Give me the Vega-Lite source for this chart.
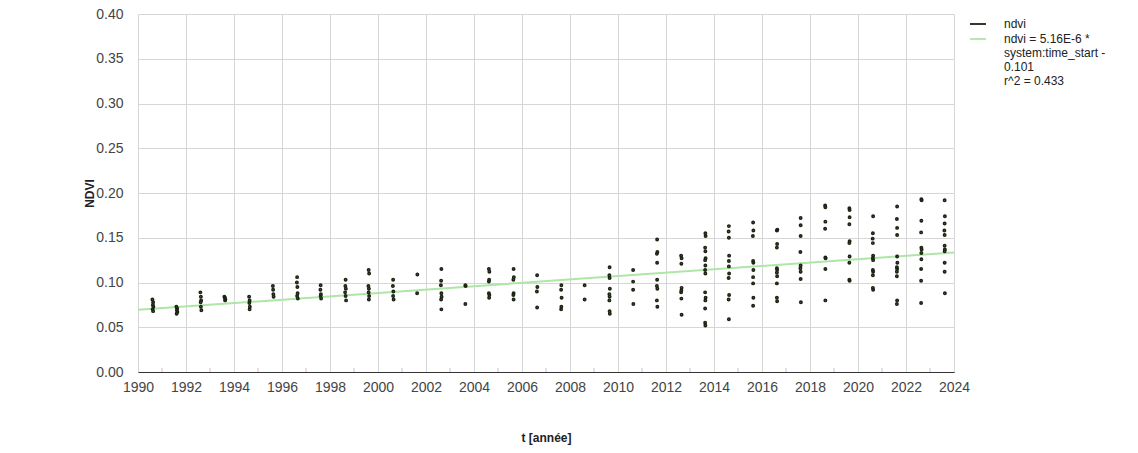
{
  "$schema": "https://vega.github.io/schema/vega-lite/v6.json",
  "width": 816,
  "height": 358,
  "autosize": {"type": "none"},
  "padding": {"left": 138, "top": 14, "right": 184, "bottom": 81},
  "config": {
    "view": {"stroke": null},
    "font": "Liberation Sans"
  },
  "datasets": {
    "points": [
      {"t": 1990.60, "ndvi": 0.081}, {"t": 1990.63, "ndvi": 0.078}, {"t": 1990.62, "ndvi": 0.075}, {"t": 1990.64, "ndvi": 0.073}, {"t": 1990.61, "ndvi": 0.070}, {"t": 1990.63, "ndvi": 0.068},
      {"t": 1991.60, "ndvi": 0.073}, {"t": 1991.63, "ndvi": 0.071}, {"t": 1991.62, "ndvi": 0.069}, {"t": 1991.64, "ndvi": 0.067}, {"t": 1991.61, "ndvi": 0.065},
      {"t": 1992.60, "ndvi": 0.089}, {"t": 1992.62, "ndvi": 0.084}, {"t": 1992.63, "ndvi": 0.080}, {"t": 1992.61, "ndvi": 0.078}, {"t": 1992.62, "ndvi": 0.073}, {"t": 1992.64, "ndvi": 0.069},
      {"t": 1993.60, "ndvi": 0.084}, {"t": 1993.62, "ndvi": 0.083}, {"t": 1993.64, "ndvi": 0.081}, {"t": 1993.63, "ndvi": 0.080},
      {"t": 1994.63, "ndvi": 0.084}, {"t": 1994.65, "ndvi": 0.080}, {"t": 1994.64, "ndvi": 0.077}, {"t": 1994.66, "ndvi": 0.073}, {"t": 1994.65, "ndvi": 0.070},
      {"t": 1995.62, "ndvi": 0.096}, {"t": 1995.63, "ndvi": 0.092}, {"t": 1995.64, "ndvi": 0.087}, {"t": 1995.65, "ndvi": 0.084},
      {"t": 1996.63, "ndvi": 0.106}, {"t": 1996.62, "ndvi": 0.100}, {"t": 1996.64, "ndvi": 0.095}, {"t": 1996.65, "ndvi": 0.088}, {"t": 1996.63, "ndvi": 0.085}, {"t": 1996.66, "ndvi": 0.082},
      {"t": 1997.61, "ndvi": 0.097}, {"t": 1997.60, "ndvi": 0.092}, {"t": 1997.62, "ndvi": 0.087}, {"t": 1997.61, "ndvi": 0.085}, {"t": 1997.63, "ndvi": 0.082},
      {"t": 1998.65, "ndvi": 0.103}, {"t": 1998.64, "ndvi": 0.096}, {"t": 1998.66, "ndvi": 0.093}, {"t": 1998.63, "ndvi": 0.089}, {"t": 1998.65, "ndvi": 0.085}, {"t": 1998.67, "ndvi": 0.080},
      {"t": 1999.61, "ndvi": 0.114}, {"t": 1999.63, "ndvi": 0.110}, {"t": 1999.60, "ndvi": 0.096}, {"t": 1999.62, "ndvi": 0.093}, {"t": 1999.61, "ndvi": 0.089}, {"t": 1999.63, "ndvi": 0.085}, {"t": 1999.62, "ndvi": 0.081},
      {"t": 2000.63, "ndvi": 0.103}, {"t": 2000.62, "ndvi": 0.096}, {"t": 2000.64, "ndvi": 0.090}, {"t": 2000.63, "ndvi": 0.085}, {"t": 2000.65, "ndvi": 0.081},
      {"t": 2001.64, "ndvi": 0.109}, {"t": 2001.63, "ndvi": 0.088},
      {"t": 2002.64, "ndvi": 0.115}, {"t": 2002.63, "ndvi": 0.102}, {"t": 2002.62, "ndvi": 0.097}, {"t": 2002.64, "ndvi": 0.088}, {"t": 2002.65, "ndvi": 0.084}, {"t": 2002.63, "ndvi": 0.081}, {"t": 2002.64, "ndvi": 0.070},
      {"t": 2003.64, "ndvi": 0.097}, {"t": 2003.65, "ndvi": 0.096}, {"t": 2003.64, "ndvi": 0.076},
      {"t": 2004.62, "ndvi": 0.115}, {"t": 2004.64, "ndvi": 0.112}, {"t": 2004.63, "ndvi": 0.103}, {"t": 2004.62, "ndvi": 0.101}, {"t": 2004.62, "ndvi": 0.088}, {"t": 2004.64, "ndvi": 0.086}, {"t": 2004.63, "ndvi": 0.083},
      {"t": 2005.65, "ndvi": 0.115}, {"t": 2005.66, "ndvi": 0.106}, {"t": 2005.64, "ndvi": 0.103}, {"t": 2005.65, "ndvi": 0.088}, {"t": 2005.64, "ndvi": 0.086}, {"t": 2005.65, "ndvi": 0.081},
      {"t": 2006.63, "ndvi": 0.108}, {"t": 2006.64, "ndvi": 0.095}, {"t": 2006.62, "ndvi": 0.090}, {"t": 2006.63, "ndvi": 0.072},
      {"t": 2007.64, "ndvi": 0.097}, {"t": 2007.63, "ndvi": 0.092}, {"t": 2007.65, "ndvi": 0.083}, {"t": 2007.64, "ndvi": 0.073}, {"t": 2007.63, "ndvi": 0.070},
      {"t": 2008.61, "ndvi": 0.097}, {"t": 2008.61, "ndvi": 0.081},
      {"t": 2009.65, "ndvi": 0.117}, {"t": 2009.64, "ndvi": 0.108}, {"t": 2009.65, "ndvi": 0.105}, {"t": 2009.66, "ndvi": 0.093}, {"t": 2009.64, "ndvi": 0.087}, {"t": 2009.65, "ndvi": 0.084}, {"t": 2009.64, "ndvi": 0.080}, {"t": 2009.65, "ndvi": 0.068}, {"t": 2009.66, "ndvi": 0.065},
      {"t": 2010.63, "ndvi": 0.114}, {"t": 2010.63, "ndvi": 0.101}, {"t": 2010.63, "ndvi": 0.092}, {"t": 2010.64, "ndvi": 0.076},
      {"t": 2011.63, "ndvi": 0.148}, {"t": 2011.64, "ndvi": 0.134}, {"t": 2011.62, "ndvi": 0.132}, {"t": 2011.63, "ndvi": 0.122}, {"t": 2011.63, "ndvi": 0.103}, {"t": 2011.62, "ndvi": 0.096}, {"t": 2011.64, "ndvi": 0.093}, {"t": 2011.62, "ndvi": 0.080}, {"t": 2011.64, "ndvi": 0.073},
      {"t": 2012.63, "ndvi": 0.130}, {"t": 2012.65, "ndvi": 0.127}, {"t": 2012.64, "ndvi": 0.121}, {"t": 2012.65, "ndvi": 0.094}, {"t": 2012.64, "ndvi": 0.091}, {"t": 2012.63, "ndvi": 0.089}, {"t": 2012.64, "ndvi": 0.082}, {"t": 2012.65, "ndvi": 0.064},
      {"t": 2013.64, "ndvi": 0.155}, {"t": 2013.65, "ndvi": 0.152}, {"t": 2013.63, "ndvi": 0.139}, {"t": 2013.64, "ndvi": 0.135}, {"t": 2013.65, "ndvi": 0.127}, {"t": 2013.63, "ndvi": 0.125}, {"t": 2013.64, "ndvi": 0.119}, {"t": 2013.63, "ndvi": 0.114}, {"t": 2013.64, "ndvi": 0.110}, {"t": 2013.63, "ndvi": 0.089}, {"t": 2013.65, "ndvi": 0.083}, {"t": 2013.64, "ndvi": 0.080}, {"t": 2013.63, "ndvi": 0.071}, {"t": 2013.63, "ndvi": 0.055}, {"t": 2013.64, "ndvi": 0.052},
      {"t": 2014.62, "ndvi": 0.163}, {"t": 2014.61, "ndvi": 0.157}, {"t": 2014.62, "ndvi": 0.150}, {"t": 2014.63, "ndvi": 0.130}, {"t": 2014.62, "ndvi": 0.124}, {"t": 2014.62, "ndvi": 0.118}, {"t": 2014.63, "ndvi": 0.110}, {"t": 2014.61, "ndvi": 0.105}, {"t": 2014.63, "ndvi": 0.086}, {"t": 2014.61, "ndvi": 0.081}, {"t": 2014.62, "ndvi": 0.059},
      {"t": 2015.63, "ndvi": 0.167}, {"t": 2015.64, "ndvi": 0.158}, {"t": 2015.62, "ndvi": 0.152}, {"t": 2015.63, "ndvi": 0.124}, {"t": 2015.64, "ndvi": 0.122}, {"t": 2015.64, "ndvi": 0.114}, {"t": 2015.63, "ndvi": 0.106}, {"t": 2015.63, "ndvi": 0.099}, {"t": 2015.64, "ndvi": 0.083}, {"t": 2015.63, "ndvi": 0.074},
      {"t": 2016.64, "ndvi": 0.159}, {"t": 2016.62, "ndvi": 0.158}, {"t": 2016.63, "ndvi": 0.143}, {"t": 2016.62, "ndvi": 0.139}, {"t": 2016.62, "ndvi": 0.116}, {"t": 2016.63, "ndvi": 0.114}, {"t": 2016.62, "ndvi": 0.111}, {"t": 2016.63, "ndvi": 0.107}, {"t": 2016.62, "ndvi": 0.099}, {"t": 2016.62, "ndvi": 0.083}, {"t": 2016.63, "ndvi": 0.079},
      {"t": 2017.61, "ndvi": 0.172}, {"t": 2017.61, "ndvi": 0.164}, {"t": 2017.61, "ndvi": 0.152}, {"t": 2017.60, "ndvi": 0.134}, {"t": 2017.61, "ndvi": 0.119}, {"t": 2017.60, "ndvi": 0.116}, {"t": 2017.61, "ndvi": 0.112}, {"t": 2017.61, "ndvi": 0.104}, {"t": 2017.62, "ndvi": 0.078},
      {"t": 2018.63, "ndvi": 0.186}, {"t": 2018.64, "ndvi": 0.184}, {"t": 2018.64, "ndvi": 0.168}, {"t": 2018.63, "ndvi": 0.160}, {"t": 2018.64, "ndvi": 0.128}, {"t": 2018.65, "ndvi": 0.127}, {"t": 2018.64, "ndvi": 0.115}, {"t": 2018.64, "ndvi": 0.080},
      {"t": 2019.64, "ndvi": 0.183}, {"t": 2019.65, "ndvi": 0.181}, {"t": 2019.65, "ndvi": 0.173}, {"t": 2019.64, "ndvi": 0.165}, {"t": 2019.65, "ndvi": 0.146}, {"t": 2019.64, "ndvi": 0.144}, {"t": 2019.65, "ndvi": 0.129}, {"t": 2019.64, "ndvi": 0.122}, {"t": 2019.64, "ndvi": 0.103}, {"t": 2019.65, "ndvi": 0.102},
      {"t": 2020.63, "ndvi": 0.174}, {"t": 2020.62, "ndvi": 0.155}, {"t": 2020.61, "ndvi": 0.149}, {"t": 2020.62, "ndvi": 0.144}, {"t": 2020.63, "ndvi": 0.130}, {"t": 2020.62, "ndvi": 0.127}, {"t": 2020.63, "ndvi": 0.125}, {"t": 2020.62, "ndvi": 0.114}, {"t": 2020.63, "ndvi": 0.112}, {"t": 2020.62, "ndvi": 0.108}, {"t": 2020.62, "ndvi": 0.094}, {"t": 2020.63, "ndvi": 0.092},
      {"t": 2021.63, "ndvi": 0.185}, {"t": 2021.62, "ndvi": 0.171}, {"t": 2021.63, "ndvi": 0.161}, {"t": 2021.63, "ndvi": 0.153}, {"t": 2021.63, "ndvi": 0.129}, {"t": 2021.64, "ndvi": 0.122}, {"t": 2021.62, "ndvi": 0.117}, {"t": 2021.63, "ndvi": 0.115}, {"t": 2021.62, "ndvi": 0.112}, {"t": 2021.62, "ndvi": 0.107}, {"t": 2021.63, "ndvi": 0.080}, {"t": 2021.62, "ndvi": 0.076},
      {"t": 2022.64, "ndvi": 0.193}, {"t": 2022.65, "ndvi": 0.192}, {"t": 2022.64, "ndvi": 0.169}, {"t": 2022.63, "ndvi": 0.156}, {"t": 2022.64, "ndvi": 0.139}, {"t": 2022.65, "ndvi": 0.137}, {"t": 2022.64, "ndvi": 0.133}, {"t": 2022.64, "ndvi": 0.126}, {"t": 2022.63, "ndvi": 0.115}, {"t": 2022.63, "ndvi": 0.102}, {"t": 2022.63, "ndvi": 0.077},
      {"t": 2023.61, "ndvi": 0.192}, {"t": 2023.62, "ndvi": 0.174}, {"t": 2023.61, "ndvi": 0.166}, {"t": 2023.60, "ndvi": 0.158}, {"t": 2023.61, "ndvi": 0.153}, {"t": 2023.61, "ndvi": 0.141}, {"t": 2023.62, "ndvi": 0.137}, {"t": 2023.61, "ndvi": 0.135}, {"t": 2023.61, "ndvi": 0.122}, {"t": 2023.61, "ndvi": 0.112}, {"t": 2023.62, "ndvi": 0.088}
    ],
    "fit": [
      {"t": 1990, "ndvi": 0.0695},
      {"t": 2024, "ndvi": 0.1336}
    ],
    "oddYears": [
      {"t": 1991}, {"t": 1993}, {"t": 1995}, {"t": 1997}, {"t": 1999}, {"t": 2001}, {"t": 2003}, {"t": 2005}, {"t": 2007},
      {"t": 2009}, {"t": 2011}, {"t": 2013}, {"t": 2015}, {"t": 2017}, {"t": 2019}, {"t": 2021}, {"t": 2023}
    ]
  },
  "layer": [
    {
      "data": {"name": "oddYears"},
      "mark": {"type": "rule", "color": "#c4c4c4", "strokeWidth": 1},
      "encoding": {
        "x": {"field": "t", "type": "quantitative"},
        "y": {"datum": 0, "type": "quantitative"},
        "y2": {"datum": 0.0045}
      }
    },
    {
      "data": {"name": "fit"},
      "mark": {"type": "line", "strokeWidth": 2, "color": "#aee6a6"},
      "encoding": {
        "x": {"field": "t", "type": "quantitative"},
        "y": {"field": "ndvi", "type": "quantitative"}
      }
    },
    {
      "data": {"name": "points"},
      "mark": {"type": "point", "filled": false, "size": 5, "strokeWidth": 1.7, "opacity": 1, "shape": "circle"},
      "encoding": {
        "x": {
          "field": "t",
          "type": "quantitative",
          "scale": {"domain": [1990, 2024], "nice": false, "zero": false},
          "axis": {
            "title": "t [année]",
            "values": [1990, 1992, 1994, 1996, 1998, 2000, 2002, 2004, 2006, 2008, 2010, 2012, 2014, 2016, 2018, 2020, 2022, 2024],
            "format": "d",
            "grid": true,
            "gridColor": "#d6d6d6",
            "ticks": false,
            "domain": true,
            "domainColor": "#333333",
            "labelFlush": false,
            "labelOverlap": false,
            "labelPadding": 8,
            "labelFontSize": 14,
            "labelColor": "#444444",
            "titleFontSize": 12,
            "titleFontWeight": "bold",
            "titleColor": "#222222",
            "titleX": 408,
            "titleY": 65,
            "titleAlign": "center",
            "titleBaseline": "middle"
          }
        },
        "y": {
          "field": "ndvi",
          "type": "quantitative",
          "scale": {"domain": [0, 0.4], "nice": false},
          "axis": {
            "title": "NDVI",
            "values": [0, 0.025, 0.05, 0.075, 0.1, 0.125, 0.15, 0.175, 0.2, 0.225, 0.25, 0.275, 0.3, 0.325, 0.35, 0.375, 0.4],
            "labelExpr": "round(datum.value * 1000) % 50 == 0 ? format(datum.value, '.2f') : ''",
            "grid": true,
            "gridColor": {"condition": {"test": "round(datum.value * 1000) % 50 != 0", "value": "#ececec"}, "value": "#d6d6d6"},
            "ticks": false,
            "domain": false,
            "labelFlush": false,
            "labelOverlap": false,
            "labelPadding": 15,
            "labelFontSize": 14,
            "labelColor": "#444444",
            "titleFontSize": 12,
            "titleFontWeight": "bold",
            "titleColor": "#222222",
            "titleX": -49,
            "titleY": 179,
            "titleAngle": -90,
            "titleAlign": "center",
            "titleBaseline": "middle"
          }
        },
        "color": {
          "datum": "ndvi",
          "type": "nominal",
          "scale": {"domain": ["ndvi", "trend"], "range": ["#1c2414", "#aee6a6"]},
          "legend": {
            "title": null,
            "orient": "none",
            "legendX": 831,
            "legendY": 1,
            "symbolType": "stroke",
            "symbolSize": 256,
            "symbolStrokeWidth": 1.8,
            "labelOffset": 17,
            "rowPadding": 0,
            "labelFontSize": 12,
            "labelColor": "#222222",
            "labelLimit": 200,
            "labelExpr": "datum.value == 'ndvi' ? 'ndvi' : ['ndvi = 5.16E-6 *', 'system:time_start -', '0.101', 'r^2 = 0.433']"
          }
        }
      }
    }
  ]
}
